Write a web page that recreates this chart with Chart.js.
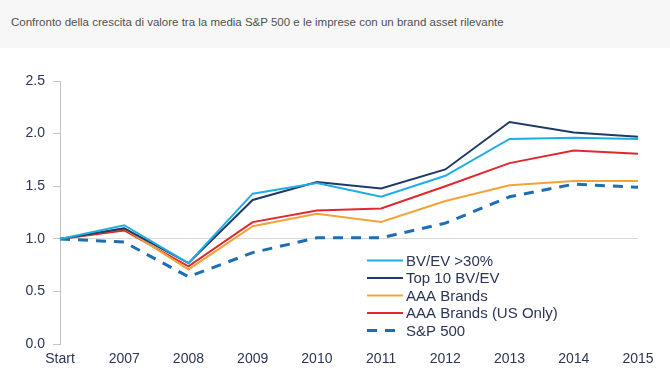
<!DOCTYPE html>
<html>
<head>
<meta charset="utf-8">
<script src="https://cdn.jsdelivr.net/npm/chart.js@4.4.0/dist/chart.umd.min.js"></script>
<style>
  body { margin: 0; background: #fff; font-family: "Liberation Sans", Arial, sans-serif; }
  .head { height: 48px; background: #f7f7f7; color: #505050; font-size: 11.5px; line-height: 45px; padding-left: 11px; }
  .wrap { position: relative; width: 670px; height: 329px; }
</style>
</head>
<body>
<div class="head">Confronto della crescita di valore tra la media S&amp;P 500 e le imprese con un brand asset rilevante</div>
<div class="wrap"><canvas id="myChartline"></canvas></div>
<script>
const labels = ['Start', '2007', '2008', '2009', '2010', '2011', '2012', '2013', '2014', '2015'];

const bvev30 = [1.00, 1.13, 0.77, 1.43, 1.53, 1.40, 1.60, 1.95, 1.96, 1.95];
const top10 = [1.00, 1.10, 0.77, 1.37, 1.54, 1.48, 1.66, 2.11, 2.01, 1.97];
const aaaBrands = [1.00, 1.10, 0.71, 1.12, 1.24, 1.16, 1.36, 1.51, 1.55, 1.55];
const aaaUS = [1.00, 1.08, 0.74, 1.16, 1.27, 1.29, 1.50, 1.72, 1.84, 1.81];
const sp500 = [1.00, 0.97, 0.64, 0.87, 1.01, 1.01, 1.15, 1.40, 1.52, 1.49];

const yTicks = [0, 0.5, 1, 1.5, 2, 2.5];

const ctx = document.getElementById('myChartline').getContext("2d");

// legend drawn inside the plot, bottom right
const insideLegend = {
    id: 'insideLegend',
    afterDraw(chart) {
        const c = chart.ctx;
        const x0 = 367, y0 = 212.5, step = 17.5;
        c.save();
        c.font = '15px "Liberation Sans", Arial, sans-serif';
        c.textBaseline = 'middle';
        chart.data.datasets.forEach((ds, i) => {
            const y = y0 + i * step;
            c.strokeStyle = ds.borderColor;
            c.lineWidth = ds.borderWidth;
            c.setLineDash(ds.borderDash || []);
            c.beginPath();
            c.moveTo(x0, y);
            c.lineTo(x0 + 36, y);
            c.stroke();
            c.setLineDash([]);
            c.fillStyle = '#2b3656';
            c.fillText(ds.label, x0 + 39, y + 1);
        });
        c.restore();
    }
};

const data = {
    labels,
    datasets: [
        { label: 'BV/EV >30%', data: bvev30, borderColor: '#1eaee3', borderWidth: 2 },
        { label: 'Top 10 BV/EV', data: top10, borderColor: '#1f3a66', borderWidth: 2 },
        { label: 'AAA Brands', data: aaaBrands, borderColor: '#f2a33a', borderWidth: 2 },
        { label: 'AAA Brands (US Only)', data: aaaUS, borderColor: '#e0282e', borderWidth: 2 },
        { label: 'S&P 500', data: sp500, borderColor: '#1f6db3', borderWidth: 3, borderDash: [10, 8] },
    ],
};

const config = {
    type: 'line',
    data: data,
    plugins: [insideLegend],
    options: {
        responsive: true,
        maintainAspectRatio: false,
        animation: false,
        layout: { padding: { top: 33, right: 32, bottom: 2, left: 0 } },
        plugins: {
            legend: { display: false },
            tooltip: { enabled: false },
        },
        elements: {
            point: { radius: 0 },
            line: { tension: 0 },
        },
        scales: {
            x: {
                offset: false,
                grid: { display: false, drawTicks: false },
                border: { display: false },
                ticks: {
                    color: '#2b3656',
                    font: { size: 14, family: '"Liberation Sans", Arial, sans-serif' },
                    padding: 7,
                    maxRotation: 0,
                    autoSkip: false,
                },
            },
            y: {
                min: 0,
                max: 2.5,
                afterFit: (axis) => { axis.width = 60; },
                afterBuildTicks: (axis) => { axis.ticks = yTicks.map(v => ({ value: v })); },
                border: { display: true, color: '#c4c4c4', width: 1 },
                grid: {
                    color: (context) => context.tick && context.tick.value === 1 ? '#d8d8d8' : 'rgba(0,0,0,0)',
                    tickColor: '#c4c4c4',
                    tickLength: 7,
                },
                ticks: {
                    color: '#2b3656',
                    font: { size: 14, family: '"Liberation Sans", Arial, sans-serif' },
                    padding: 8,
                    callback: function(value) {
                        return value.toFixed(1);
                    },
                },
            },
        },
    },
};

const myChartline = new Chart(ctx, config);
</script>
</body>
</html>
